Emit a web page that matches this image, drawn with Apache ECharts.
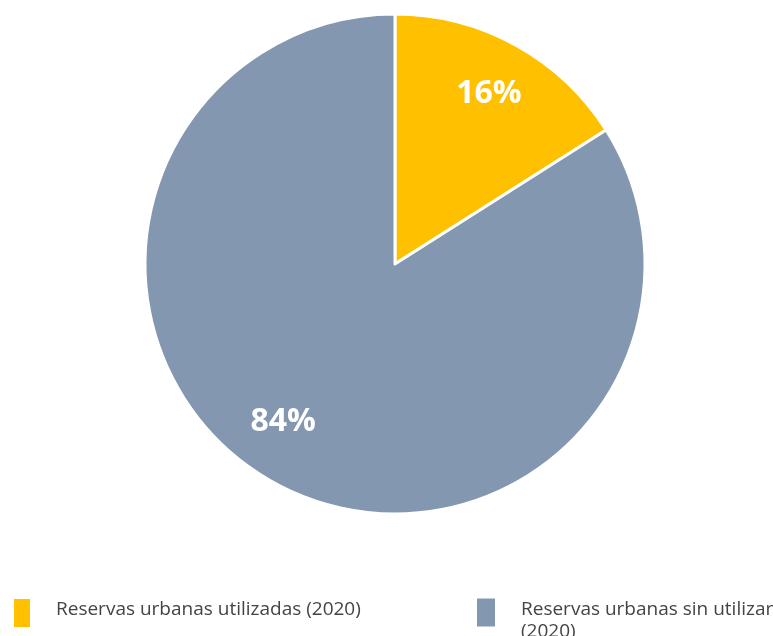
<!DOCTYPE html>
<html><head><meta charset="utf-8">
<script src="https://cdn.jsdelivr.net/npm/echarts@6/dist/echarts.min.js"></script>
<style>html,body{margin:0;padding:0;background:#fff}#c{width:773px;height:636px}</style>
</head><body><div id="c"></div>
<script>
const categories = ['Reservas urbanas utilizadas (2020)', 'Reservas urbanas sin utilizar (2020)'];
const values = [16, 84];
const colors = ['#FFC000', '#8497B0'];
const labelNudge = [[-2, 4], [-16, -16]];

const data = categories.map((n, i) => ({ name: n, value: values[i], itemStyle: { color: colors[i] } }));
const chart = echarts.init(document.getElementById('c'), null, { renderer: 'canvas' });
const rich = {
  t: { color: '#444', fontSize: 19, fontFamily: 'Open Sans', lineHeight: 22 },
  s: { fontSize: 1, lineHeight: 6 },
  s2: { fontSize: 1, lineHeight: 16 }
};
const textStyle = { color: '#444', fontSize: 19, fontFamily: 'Open Sans', padding: [0, 0, 0, 20], rich: rich };
chart.setOption({
  animation: false,
  legend: [
    { data: [categories[0]], left: 12, top: 597, padding: 0, icon: 'rect', itemWidth: 18, itemHeight: 30,
      textStyle: textStyle, selectedMode: false,
      formatter: n => '{t|' + n + '}\n{s| }' },
    { data: [categories[1]], left: 475, top: 590, padding: 0, icon: 'rect', itemWidth: 20, itemHeight: 30,
      textStyle: textStyle, selectedMode: false,
      formatter: n => '{s2| }\n{t|' + n.replace(' (2020)', '}\n{t|(2020)') + '}' }
  ],
  series: [
    {
      type: 'pie', center: [395, 264], radius: [0, 250], startAngle: 90, clockwise: true,
      data: data, label: { show: false }, labelLine: { show: false },
      itemStyle: { borderColor: '#fff', borderWidth: 3 }, silent: true
    },
    {
      type: 'pie', center: [395, 264], radius: [142, 250], startAngle: 90, clockwise: true,
      data: data.map((d, i) => ({ name: d.name, value: d.value, itemStyle: { color: 'rgba(0,0,0,0)' },
        label: { offset: labelNudge[i] } })),
      label: { show: true, position: 'inside', formatter: '{c}%', color: '#fff', fontSize: 32, fontWeight: 'bold', fontFamily: 'Open Sans' },
      labelLine: { show: false }, silent: true, legendHoverLink: false
    }
  ]
});
</script></body></html>
